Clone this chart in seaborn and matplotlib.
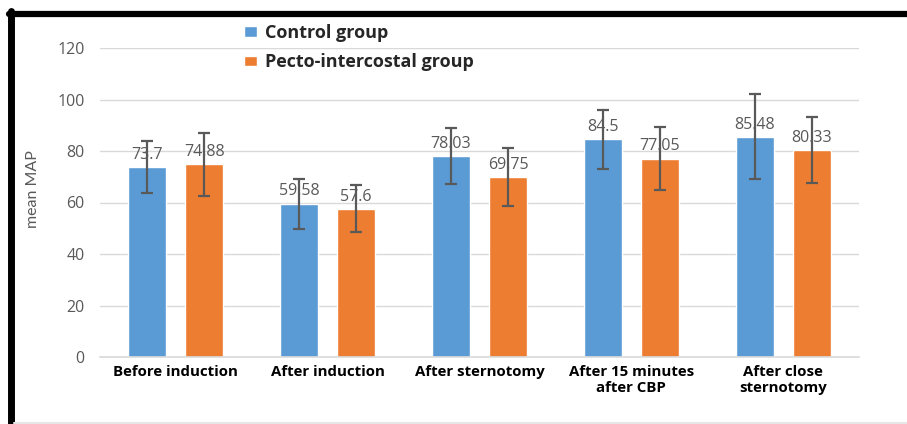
import numpy as np
import pandas as pd
import matplotlib
matplotlib.use("Agg")
import matplotlib.pyplot as plt
import seaborn as sns
from matplotlib.lines import Line2D

# values
stages = ["Before induction", "After induction", "After sternotomy",
          "After 15 minutes\nafter CBP", "After close\nsternotomy"]
groups = ["Control group", "Pecto-intercostal group"]
control_mean = [73.7, 59.58, 78.03, 84.5, 85.48]
pecto_mean = [74.88, 57.6, 69.75, 77.05, 80.33]
control_sd = [10.2, 9.7, 10.8, 11.5, 16.5]
pecto_sd = [12.2, 9.2, 11.3, 12.2, 12.8]

df = pd.DataFrame({
    "stage": stages * 2,
    "group": [groups[0]] * 5 + [groups[1]] * 5,
    "mean": control_mean + pecto_mean,
    "sd": control_sd + pecto_sd,
})

sns.set_theme(style="white")
plt.rcParams["font.family"] = ["Open Sans", "DejaVu Sans"]

fig = plt.figure(figsize=(9.07, 4.24), dpi=100)
ax = fig.add_axes([100 / 907, 1 - 357 / 424, 759 / 907, 309 / 424])

sns.barplot(data=df, x="stage", y="mean", hue="group", hue_order=groups,
            palette=["#5B9BD5", "#ED7D31"], width=0.75, gap=1 / 3,
            errorbar=None, saturation=1, ax=ax, zorder=2)

# data labels and error bars per hue group
for cont, (g, sub) in zip(ax.containers, df.groupby("group", sort=False)):
    ax.bar_label(cont, labels=[f"{v:g}" for v in sub["mean"]], padding=3,
                 fontsize=11.5, color="#595959", zorder=3)
    xs = [p.get_x() + p.get_width() / 2 for p in cont.patches]
    ax.errorbar(xs, sub["mean"], yerr=sub["sd"], fmt="none",
                ecolor="#595959", elinewidth=1.6, capsize=4.5,
                capthick=1.6, zorder=4)

ax.set_xlim(-0.5, len(stages) - 0.5)
ax.set_ylim(0, 120)
ax.set_yticks(range(0, 121, 20))
ax.yaxis.grid(True, color="#D9D9D9", linewidth=1)
ax.set_axisbelow(True)
for s in ["top", "right", "left"]:
    ax.spines[s].set_visible(False)
ax.spines["bottom"].set_color("#D9D9D9")
ax.spines["bottom"].set_linewidth(1.2)

ax.tick_params(axis="y", length=0, pad=11, labelsize=11.5, labelcolor="#595959")
ax.tick_params(axis="x", length=0, pad=6)
for lbl in ax.get_xticklabels():
    lbl.set_fontweight("bold")
    lbl.set_fontsize(10.8)
    lbl.set_color("black")
    lbl.set_linespacing(1.15)

ax.set_xlabel("")
ax.set_ylabel("mean MAP", fontsize=11.5, color="#595959",
              family=["Liberation Sans Narrow", "Lato", "DejaVu Sans"])
ax.yaxis.set_label_coords(-0.079, 0.545)

sns.move_legend(ax, loc="upper left", bbox_to_anchor=(244 / 907, 1 - 24 / 424),
                bbox_transform=fig.transFigure, frameon=False, title=None,
                borderaxespad=0, borderpad=0, handlelength=0.7,
                handleheight=0.5, handletextpad=0.45, labelspacing=0.62,
                prop={"weight": "bold", "size": 13})

# frame around the chart (black left/top, light bottom)
fig.add_artist(Line2D([11 / 907, 11 / 907], [0, 1 - 11 / 424],
                      transform=fig.transFigure, color="black", linewidth=5))
fig.add_artist(Line2D([9 / 907, 1], [1 - 14 / 424, 1 - 14 / 424],
                      transform=fig.transFigure, color="black", linewidth=4.5))
fig.add_artist(Line2D([14 / 907, 1], [1 / 424, 1 / 424],
                      transform=fig.transFigure, color="#E6E6E6", linewidth=1.5))

fig.savefig("out.png", dpi=100)
